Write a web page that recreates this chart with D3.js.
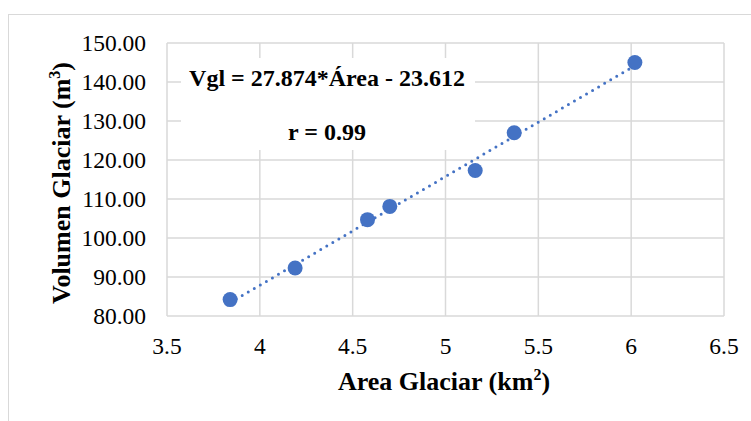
<!DOCTYPE html>
<html>
<head>
<meta charset="utf-8">
<script src="https://cdn.jsdelivr.net/npm/d3@7"></script>
<style>
  body { margin: 0; background: #fff; }
</style>
</head>
<body>
<div class="canvas"></div>
<script>
const WIDTH = 751,
  HEIGHT = 421,
  MARGIN = { top: 43, right: 30, bottom: 105, left: 167 },
  FONT = '"Liberation Serif"';

// data
const areas = [3.84, 4.19, 4.58, 4.7, 5.16, 5.37, 6.02];
const volumes = [84.2, 92.3, 104.7, 108.1, 117.3, 127.0, 145.0];
const xTicks = [3.5, 4, 4.5, 5, 5.5, 6, 6.5];
const yTicks = [80, 90, 100, 110, 120, 130, 140, 150];
const fit = [27.874, -23.612];
const labels = ["Vgl = 27.874*Área - 23.612", "r = 0.99"];

const svg = d3
  .select(".canvas")
  .append("svg")
  .attr("width", WIDTH)
  .attr("height", HEIGHT);

// outer chart frame
svg
  .append("rect")
  .attr("x", 8.5)
  .attr("y", 14.5)
  .attr("width", 800)
  .attr("height", 500)
  .attr("fill", "none")
  .attr("stroke", "#d9d9d9")
  .attr("stroke-width", 1);

const x = d3
  .scaleLinear()
  .domain([3.5, 6.5])
  .range([MARGIN.left, WIDTH - MARGIN.right + 3]);

const y = d3
  .scaleLinear()
  .domain([80, 150])
  .range([HEIGHT - MARGIN.bottom, MARGIN.top]);

const grid = svg.append("g").attr("stroke", "#d9d9d9").attr("stroke-width", 1.5);

grid
  .selectAll(".vgrid")
  .data(xTicks)
  .enter()
  .append("line")
  .attr("x1", (d) => x(d))
  .attr("x2", (d) => x(d))
  .attr("y1", y(150))
  .attr("y2", y(80));

grid
  .selectAll(".hgrid")
  .data(yTicks)
  .enter()
  .append("line")
  .attr("x1", x(3.5))
  .attr("x2", x(6.5))
  .attr("y1", (d) => y(d))
  .attr("y2", (d) => y(d));

// tick labels
svg
  .append("g")
  .selectAll("text")
  .data(xTicks)
  .enter()
  .append("text")
  .style("font-family", FONT)
  .attr("x", (d) => x(d))
  .attr("y", y(80) + 38)
  .attr("text-anchor", "middle")
  .attr("font-size", 23.5)
  .text((d) => d);

svg
  .append("g")
  .selectAll("text")
  .data(yTicks)
  .enter()
  .append("text")
  .style("font-family", FONT)
  .attr("x", x(3.5) - 21)
  .attr("y", (d) => y(d) + 8)
  .attr("text-anchor", "end")
  .attr("font-size", 23.5)
  .text((d) => d.toFixed(2));

// annotation box
svg
  .append("rect")
  .attr("x", 181)
  .attr("y", 58)
  .attr("width", 294)
  .attr("height", 92)
  .attr("fill", "#fff");

svg
  .append("g")
  .selectAll("text")
  .data(labels)
  .enter()
  .append("text")
  .style("font-family", FONT)
  .attr("x", 327)
  .attr("y", (d, i) => 86 + i * 54)
  .attr("text-anchor", "middle")
  .attr("font-size", 24)
  .attr("font-weight", "bold")
  .text((d) => d);

// trendline
const xs = d3.extent(areas);
svg
  .append("line")
  .attr("x1", x(xs[0]))
  .attr("y1", y(fit[0] * xs[0] + fit[1]))
  .attr("x2", x(xs[1]))
  .attr("y2", y(fit[0] * xs[1] + fit[1]))
  .attr("stroke", "#4472c4")
  .attr("stroke-width", 3)
  .attr("stroke-linecap", "round")
  .attr("stroke-dasharray", "0 7");

// points
svg
  .append("g")
  .selectAll("circle")
  .data(areas)
  .enter()
  .append("circle")
  .attr("cx", (d) => x(d))
  .attr("cy", (d, i) => y(volumes[i]))
  .attr("r", 7.5)
  .attr("fill", "#4472c4");

// axis titles
const xTitle = svg
  .append("text")
  .style("font-family", FONT)
  .attr("x", 444)
  .attr("y", 390)
  .attr("text-anchor", "middle")
  .attr("font-size", 26)
  .attr("font-weight", "bold");
xTitle.append("tspan").text("Area Glaciar (km");
xTitle.append("tspan").attr("font-size", 16).attr("dy", -10).text("2");
xTitle.append("tspan").attr("dy", 10).text(")");

const yTitle = svg
  .append("text")
  .style("font-family", FONT)
  .attr("transform", "translate(70, 183) rotate(-90)")
  .attr("text-anchor", "middle")
  .attr("font-size", 26)
  .attr("font-weight", "bold");
yTitle.append("tspan").text("Volumen Glaciar (m");
yTitle.append("tspan").attr("font-size", 16).attr("dy", -10).text("3");
yTitle.append("tspan").attr("dy", 10).text(")");
</script>
</body>
</html>
